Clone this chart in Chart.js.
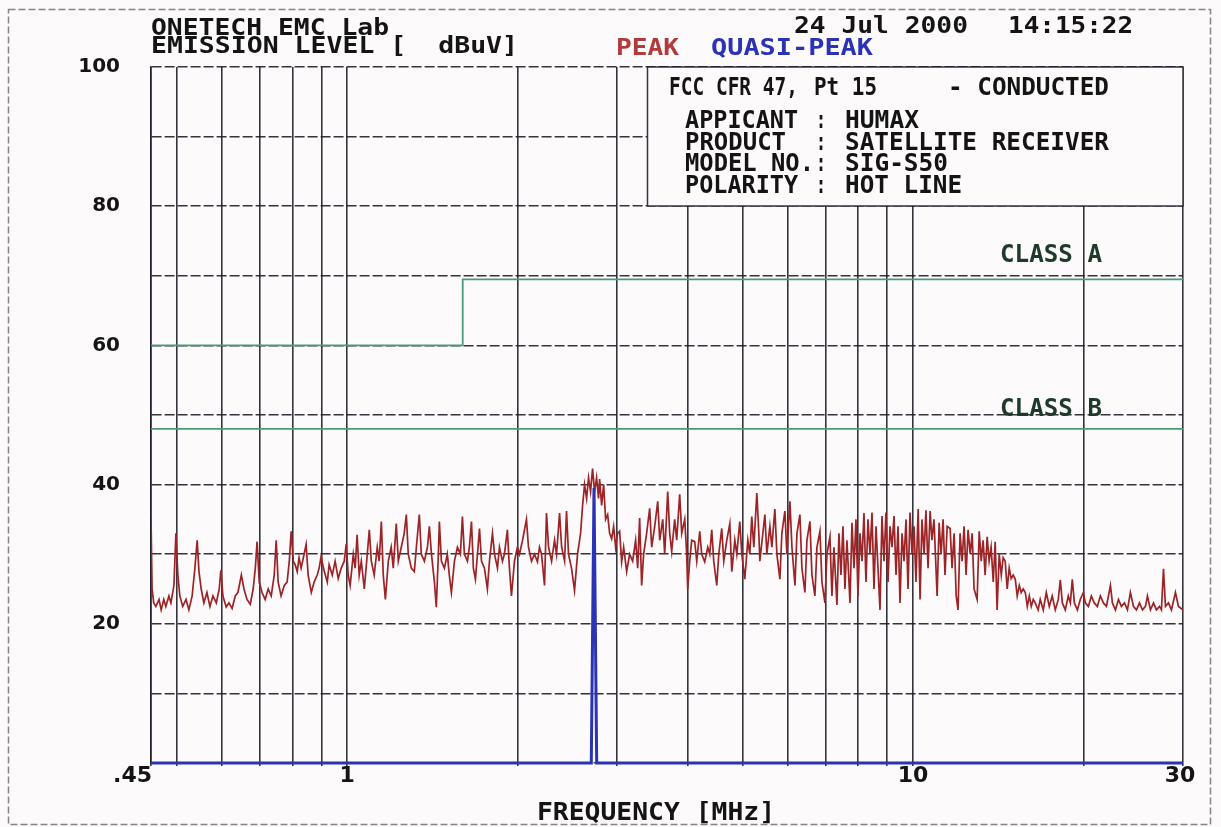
<!DOCTYPE html>
<html>
<head>
<meta charset="utf-8">
<title>Conducted emission - FCC Pt 15</title>
<script src="https://cdn.jsdelivr.net/npm/chart.js@4.4.0/dist/chart.umd.min.js"></script>
<style>
  html, body { margin: 0; padding: 0; background: #fdfafc; }
  canvas { display: block; }
</style>
</head>
<body>
<canvas id="emiChart" width="1221" height="827"></canvas>
<script>
// --- data (MHz / dBuV) ---

// vertical grid lines of the log frequency axis
const xGridValues = [0.45, 0.5, 0.6, 0.7, 0.8, 0.9, 1, 2, 3, 4, 5, 6, 7, 8, 9, 10, 20, 30];
const xLabelValues = [0.45, 1, 10, 30];
const xLabelTexts = [".45", "1", "10", "30"];

// peak trace, split in frequency bands
const peakFreqA = [0.450,0.452,0.455,0.459,0.465,0.469,0.474,0.478,0.484,0.488,0.494,0.498,0.502,0.506,0.512,0.519,0.525,0.532,0.538,0.543,0.547,0.552,0.558,0.565,0.572,0.579,0.587,0.594,0.598,0.603,0.611,0.618,0.626,0.634,0.641,0.650,0.657,0.665,0.674,0.682,0.688,0.693,0.699,0.707,0.716,0.725,0.734,0.743,0.749,0.755,0.764,0.774,0.783,0.790,0.796,0.803,0.809,0.816,0.822,0.829,0.839,0.846,0.853,0.864,0.874,0.885,0.892,0.899,0.911,0.922,0.929,0.941,0.952,0.964,0.976,0.988,0.996];
const peakLevelA = [35.3,25,23,22.5,23.5,22,23.5,22.5,24,23,25.5,33,27,24,22.5,23.5,22,24,28,32,27.5,25,23,24.5,22.5,24,23,25,27.7,24,22.4,23,22.2,24,24.5,27,25,23.5,22.8,25,28,31.8,26,24.5,23.5,25,24,27,32,26,24,25.5,26,29,33.3,29,28.5,27.5,29.5,28,30,31.4,27,24.5,26,27,28,29.6,27.5,26,28.5,27,29,26.5,28,29,31.5];

const peakFreqB = [1.004,1.012,1.025,1.033,1.041,1.050,1.059,1.072,1.085,1.094,1.103,1.116,1.130,1.139,1.149,1.158,1.168,1.182,1.196,1.206,1.221,1.231,1.246,1.261,1.272,1.282,1.298,1.314,1.325,1.341,1.352,1.369,1.386,1.397,1.409,1.426,1.437,1.449,1.455,1.467,1.485,1.503,1.515,1.528,1.547,1.566,1.585,1.598,1.611,1.631,1.644,1.658,1.671,1.685,1.699,1.713,1.727,1.748,1.769,1.784,1.806,1.821,1.843,1.858,1.881,1.896,1.919,1.935,1.951,1.975,1.999,2.016,2.041,2.074,2.091,2.117,2.143,2.169,2.187,2.205,2.232,2.250,2.269,2.297,2.325,2.344,2.373,2.393,2.422,2.441,2.461,2.491,2.522,2.553,2.585,2.606,2.627,2.649,2.670,2.692,2.714,2.736,2.759,2.781];
const peakLevelB = [27,25.5,30,28,32.8,27,29,25,30,33.5,29,27,31,29,34.7,27,23.5,29,31,28,34.4,29,31,33,35.7,30,28,27.5,31,35.7,30,29,31,34,30,26,22.4,30,34.7,29,28,30,27,24.5,29,31,30,35.4,30,29,31,34.7,28,26.4,30,33.7,29,28,25,29,33,30,28,31,29,30,33.5,28,24,29,31,30,32,35,31,29,30,28.9,31,30,25.5,35.9,31,29,32,30,35.9,31,29,36.2,30,28,24.8,30,33,37,40,38,41,39,42.3,39,41,38];

const peakFreqC = [2.793,2.816,2.839,2.862,2.886,2.909,2.933,2.957,2.981,3.005,3.030,3.055,3.080,3.118,3.156,3.195,3.234,3.261,3.287,3.314,3.341,3.382,3.424,3.452,3.495,3.538,3.567,3.611,3.640,3.685,3.715,3.745,3.791,3.822,3.869,3.901,3.949,3.981,3.997,4.030,4.063,4.113,4.147,4.198,4.232,4.284,4.337,4.372,4.408,4.444,4.499,4.536,4.591,4.629,4.686,4.744,4.783,4.842,4.881,4.941,4.982,5.043,5.105,5.147,5.188,5.231,5.296,5.339,5.361,5.427,5.472,5.516,5.584,5.630,5.699,5.746,5.817,5.864,5.936,5.985,6.059,6.109,6.184,6.235,6.310,6.362,6.440,6.493,6.573,6.627,6.708,6.763,6.846,6.902,6.987,7.044];
const peakLevelC = [40.8,37,40,35,35.7,33,32.2,34,31,33,33.3,28.9,31,27.5,30,29,32,28,35.2,25.5,30,33,36.6,31,34,37.6,32,35,30,39,33,30.4,35,32,38.6,33,35,30,25,29,32,31.8,29,33.3,30,28.9,31,30,33.5,29,25.5,30,33.7,29,32,34.4,27.5,32,30,34.7,30,26.4,32,30,35.4,31,38.8,33,29,33,35.7,30,34,31,36.5,30,26.4,33,36.2,30,37.6,31,25.5,33,35.7,28,24.5,32,34.7,27,24,31,33.3,26,23,30];

const peakFreqD = [7.131,7.189,7.248,7.337,7.397,7.458,7.519,7.580,7.642,7.737,7.800,7.864,7.928,7.993,8.058,8.124,8.190,8.257,8.325,8.393,8.462,8.531,8.601,8.671,8.742,8.813,8.885,8.958,9.032,9.106,9.180,9.255,9.331,9.407,9.484,9.562,9.640,9.719,9.798,9.878,9.959,10.04,10.12,10.21,10.29,10.37,10.46,10.54,10.63,10.72,10.80,10.89,11.03,11.12,11.21,11.30,11.39,11.49,11.63,11.72,11.82,11.92,12.01,12.11,12.21,12.31,12.41,12.51,12.62,12.72,12.82,12.98,13.09,13.20,13.30,13.41,13.52,13.63,13.74,13.86,13.97,14.08,14.20,14.32,14.43,14.55,14.67,14.79,14.91,15.03,15.16,15.28,15.41,15.53,15.66,15.79,15.92,16.05,16.18,16.31,16.44,16.64];
const peakLevelD = [32.5,24,31,22.7,33,27,34,25,32,23,34.5,28,35,24,33,29,35.9,26,35,30,36,25,34,28,22,35.5,29,36,26,34,31,35.5,27,34,23,33,29,35,25,36,30,34,26,36.5,23.5,35,30,36.3,28,36.2,32,35,24,34.5,30,35,27,34,33.7,28,33,24,22,33,29,34,27,33.5,30,33,25,23.5,33.3,29,32,27,32.5,29,31,26,31.8,22,30,27,29.5,29,25,28,26.5,27,26.4,24,25.5,24.5,25,24.5,22.5,24,22.5,23.5,23,22];

const peakFreqE = [16.78,16.99,17.20,17.41,17.62,17.84,18.06,18.21,18.36,18.58,18.81,18.97,19.12,19.28,19.52,19.75,20.00,20.16,20.41,20.66,20.91,21.17,21.43,21.70,21.97,22.33,22.51,22.79,23.07,23.35,23.64,23.93,24.22,24.52,24.82,25.13,25.44,25.75,25.96,26.28,26.61,26.93,27.26,27.48,27.71,27.93,28.28,28.62,29.09,29.45,30.00];
const peakLevelE = [23.5,22,24.5,22.5,24,22,23.5,26.3,23,22,24,23,26.4,23,22,23.5,24.5,23,22.5,24,23,22.5,24,23,22.5,25.5,23,22,23.5,22.5,23,22,24.5,22.5,22,23,22,22.5,24,22,23,22,22.5,22,27.9,22.5,23,22,24.5,22.5,22];

// quasi-peak trace (one measured spike, rest at floor)
const qpFreq = [0.45, 2.70, 2.73, 2.76, 30];
const qpLevel = [0, 0, 39.5, 0, 0];

// limit lines
const classAFreq = [0.45, 1.6, 1.6, 30];
const classALevel = [60, 60, 69.5, 69.5];
const classBFreq = [0.45, 30];
const classBLevel = [48, 48];

const RED = "#9c2326";
const BLUE = "#2b33b5";
const GREEN = "#4a9a78";
const GRID = "rgba(30,30,40,0.9)";
const INK = "#141414";
const PLOT_FONT = "'DejaVu Sans Mono', 'Liberation Mono', monospace";

function toPoints(xs, ys) {
  return xs.map((x, i) => ({ x: x, y: ys[i] }));
}

const peakFreq = [].concat(peakFreqA, peakFreqB, peakFreqC, peakFreqD, peakFreqE);
const peakLevel = [].concat(peakLevelA, peakLevelB, peakLevelC, peakLevelD, peakLevelE);

// draws text squeezed/stretched to a given width (plotter lettering)
function plotText(ctx, text, x, baseY, width, size, color) {
  ctx.save();
  ctx.font = "bold " + size + "px " + PLOT_FONT;
  ctx.fillStyle = color || INK;
  ctx.textAlign = "left";
  ctx.textBaseline = "alphabetic";
  const w = ctx.measureText(text).width;
  ctx.translate(x, baseY);
  ctx.scale(width / w, 1);
  ctx.fillText(text, 0, 0);
  ctx.restore();
}

const overlay = {
  id: "overlay",
  beforeDraw(chart) {
    const ctx = chart.ctx;
    ctx.save();
    ctx.fillStyle = "#fdfafc";
    ctx.fillRect(0, 0, chart.width, chart.height);
    ctx.restore();
  },
  afterDraw(chart) {
    const ctx = chart.ctx;
    const xs = chart.scales.x;

    // page border of the printout
    ctx.save();
    ctx.strokeStyle = "rgba(70,70,80,0.65)";
    ctx.lineWidth = 1.5;
    ctx.setLineDash([7, 3]);
    ctx.strokeRect(8.5, 9.5, 1202, 815);
    ctx.restore();

    // info box in the upper right
    ctx.save();
    ctx.fillStyle = "#fdfafc";
    ctx.fillRect(647, 67, 536, 139);
    ctx.strokeStyle = GRID;
    ctx.lineWidth = 1.5;
    ctx.strokeRect(647.5, 67, 535.5, 139);
    ctx.restore();

    // header
    plotText(ctx, "ONETECH EMC Lab", 151, 35, 238, 23);
    plotText(ctx, "EMISSION LEVEL [  dBuV]", 151, 53, 367, 23);
    plotText(ctx, "24 Jul 2000", 794, 33, 174, 23);
    plotText(ctx, "14:15:22", 1008, 33, 125, 23);
    plotText(ctx, "PEAK", 616, 55, 63, 23, "#b23a3a");
    plotText(ctx, "QUASI-PEAK", 711, 55, 162, 23, BLUE);

    // box text
    plotText(ctx, "FCC CFR 47,", 669, 95, 129, 25);
    plotText(ctx, "Pt 15", 814, 95, 63, 25);
    plotText(ctx, "- CONDUCTED", 948, 95, 161, 25);
    const rows = [
      ["APPICANT", 113, "HUMAX", 74, 128],
      ["PRODUCT", 101, "SATELLITE RECEIVER", 264, 150],
      ["MODEL NO.", 129, "SIG-S50", 103, 171],
      ["POLARITY", 113, "HOT LINE", 117, 193],
    ];
    rows.forEach((r) => {
      plotText(ctx, r[0], 685, r[4], r[1], 25);
      plotText(ctx, ":", 816, r[4], 10, 25);
      plotText(ctx, r[2], 845, r[4], r[3], 25);
    });

    // limit labels
    plotText(ctx, "CLASS A", 1000, 262, 102, 25, "#1d3a2a");
    plotText(ctx, "CLASS B", 1000, 416, 102, 25, "#1d3a2a");

    // x axis labels and title
    ctx.save();
    ctx.font = "bold 22px 'DejaVu Sans', sans-serif";
    ctx.fillStyle = INK;
    ctx.textBaseline = "alphabetic";
    xLabelValues.forEach((v, i) => {
      const px = xs.getPixelForValue(v);
      if (i === 0) {
        ctx.textAlign = "right";
        ctx.fillText(xLabelTexts[i], px + 1, 782);
      } else if (i === xLabelValues.length - 1) {
        ctx.textAlign = "center";
        ctx.fillText(xLabelTexts[i], px - 3, 782);
      } else {
        ctx.textAlign = "center";
        ctx.fillText(xLabelTexts[i], px, 782);
      }
    });
    ctx.restore();
    plotText(ctx, "FREQUENCY [MHz]", 537, 820, 238, 25);
  },
};

const ctx = document.getElementById("emiChart").getContext("2d");
new Chart(ctx, {
  type: "line",
  data: {
    datasets: [
      {
        label: "QUASI-PEAK",
        data: toPoints(qpFreq, qpLevel),
        borderColor: BLUE,
        borderWidth: 3,
        pointRadius: 0,
        clip: false,
      },
      {
        label: "PEAK",
        data: toPoints(peakFreq, peakLevel),
        borderColor: RED,
        borderWidth: 1.7,
        pointRadius: 0,
      },
      {
        label: "CLASS A",
        data: toPoints(classAFreq, classALevel),
        borderColor: GREEN,
        borderWidth: 1.8,
        pointRadius: 0,
      },
      {
        label: "CLASS B",
        data: toPoints(classBFreq, classBLevel),
        borderColor: GREEN,
        borderWidth: 1.8,
        pointRadius: 0,
      },
    ],
  },
  options: {
    responsive: false,
    animation: false,
    devicePixelRatio: 1,
    layout: { padding: { top: 67, right: 38, left: 0, bottom: 0 } },
    plugins: { legend: { display: false }, tooltip: { enabled: false } },
    scales: {
      x: {
        type: "logarithmic",
        min: 0.45,
        max: 30,
        afterBuildTicks: (scale) => {
          scale.ticks = xGridValues.map((v) => ({ value: v }));
        },
        afterFit: (scale) => {
          scale.height = 64;
        },
        ticks: { display: false },
        grid: { color: GRID, lineWidth: 1.6, drawTicks: true, tickLength: 3 },
        border: { display: false },
      },
      y: {
        min: 0,
        max: 100,
        afterFit: (scale) => {
          scale.width = 151;
        },
        ticks: {
          stepSize: 10,
          padding: 31,
          color: INK,
          font: { family: "'DejaVu Sans', sans-serif", weight: "bold", size: 20 },
          callback: (v) => (v > 0 && v % 20 === 0 ? String(v) : ""),
        },
        grid: { color: GRID, lineWidth: 1.6, drawTicks: false },
        border: { display: true, color: GRID, width: 1.6, dash: [10, 3] },
      },
    },
  },
  plugins: [overlay],
});
</script>
</body>
</html>
